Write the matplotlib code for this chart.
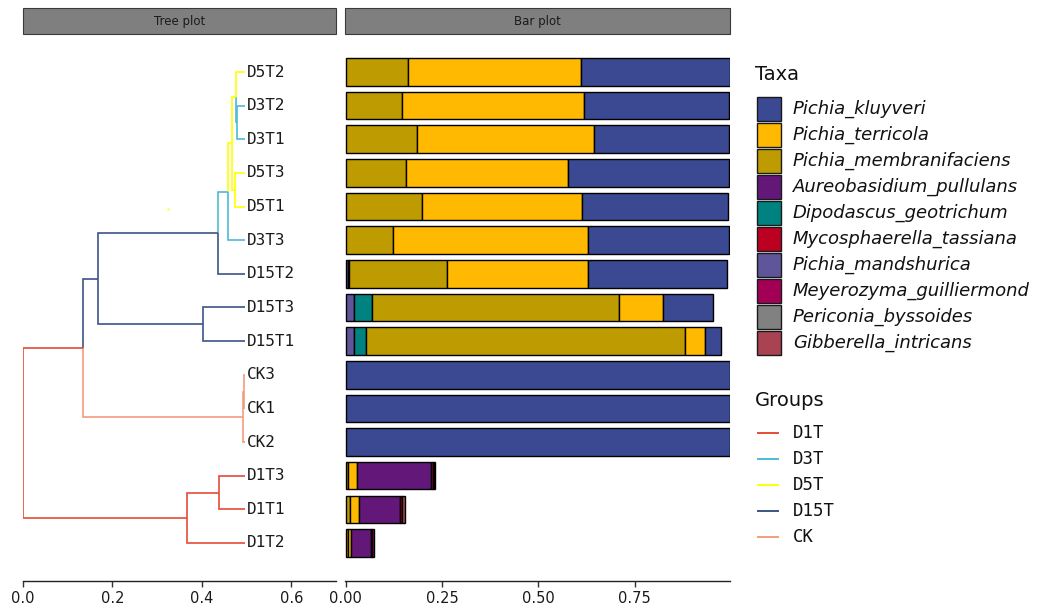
import numpy as np
import matplotlib
matplotlib.use("Agg")
import matplotlib.pyplot as plt
from matplotlib.patches import Rectangle

# ---------------- data ----------------
samples = ["D5T2", "D3T2", "D3T1", "D5T3", "D5T1", "D3T3", "D15T2", "D15T3",
           "D15T1", "CK3", "CK1", "CK2", "D1T3", "D1T1", "D1T2"]
sample_group = ["D5T", "D3T", "D3T", "D5T", "D5T", "D3T", "D15T", "D15T",
                "D15T", "CK", "CK", "CK", "D1T", "D1T", "D1T"]

taxa = ["Pichia_kluyveri", "Pichia_terricola", "Pichia_membranifaciens",
        "Aureobasidium_pullulans", "Dipodascus_geotrichum",
        "Mycosphaerella_tassiana", "Pichia_mandshurica",
        "Meyerozyma_guilliermond", "Periconia_byssoides", "Gibberella_intricans"]
taxa_colors = ["#3B4992", "#FFB900", "#BE9B00", "#631879", "#008280",
               "#BB0021", "#5F559B", "#A20056", "#808180", "#A94352"]

# relative abundance per sample (same order as samples)
pichia_kluyveri = [0.385, 0.377, 0.351, 0.418, 0.378, 0.366, 0.360, 0.128,
                   0.041, 0.996, 0.996, 0.996, 0.000, 0.000, 0.000]
pichia_terricola = [0.450, 0.473, 0.460, 0.422, 0.417, 0.506, 0.366, 0.114,
                    0.051, 0.000, 0.000, 0.000, 0.022, 0.025, 0.008]
pichia_membranifaciens = [0.161, 0.145, 0.184, 0.155, 0.197, 0.123, 0.253, 0.642,
                          0.829, 0.000, 0.000, 0.000, 0.007, 0.010, 0.005]
aureobasidium_pullulans = [0.000, 0.000, 0.000, 0.000, 0.000, 0.000, 0.000, 0.000,
                           0.000, 0.000, 0.000, 0.000, 0.192, 0.105, 0.052]
dipodascus_geotrichum = [0.000, 0.000, 0.000, 0.000, 0.000, 0.000, 0.004, 0.046,
                         0.030, 0.000, 0.000, 0.000, 0.000, 0.000, 0.000]
mycosphaerella_tassiana = [0.000, 0.000, 0.000, 0.000, 0.000, 0.000, 0.000, 0.000,
                           0.000, 0.000, 0.000, 0.000, 0.005, 0.006, 0.004]
pichia_mandshurica = [0.000, 0.000, 0.000, 0.000, 0.000, 0.000, 0.005, 0.022,
                      0.022, 0.000, 0.000, 0.000, 0.000, 0.000, 0.000]
meyerozyma_guilliermond = [0.000, 0.000, 0.000, 0.000, 0.000, 0.000, 0.000, 0.000,
                           0.000, 0.000, 0.000, 0.000, 0.003, 0.000, 0.004]
periconia_byssoides = [0.000, 0.000, 0.000, 0.000, 0.000, 0.000, 0.000, 0.000,
                       0.000, 0.000, 0.000, 0.000, 0.002, 0.000, 0.000]
gibberella_intricans = [0.000, 0.000, 0.000, 0.000, 0.000, 0.000, 0.000, 0.000,
                        0.000, 0.000, 0.000, 0.000, 0.000, 0.007, 0.000]

abundance = {
    "Pichia_kluyveri": pichia_kluyveri,
    "Pichia_terricola": pichia_terricola,
    "Pichia_membranifaciens": pichia_membranifaciens,
    "Aureobasidium_pullulans": aureobasidium_pullulans,
    "Dipodascus_geotrichum": dipodascus_geotrichum,
    "Mycosphaerella_tassiana": mycosphaerella_tassiana,
    "Pichia_mandshurica": pichia_mandshurica,
    "Meyerozyma_guilliermond": meyerozyma_guilliermond,
    "Periconia_byssoides": periconia_byssoides,
    "Gibberella_intricans": gibberella_intricans,
}
# left-to-right stacking order of the bar segments
stack_order = ["Pichia_mandshurica", "Dipodascus_geotrichum",
               "Pichia_membranifaciens", "Pichia_terricola",
               "Aureobasidium_pullulans", "Mycosphaerella_tassiana",
               "Meyerozyma_guilliermond", "Periconia_byssoides",
               "Gibberella_intricans", "Pichia_kluyveri"]

groups = ["D1T", "D3T", "D5T", "D15T", "CK"]
group_colors = ["#E64B35", "#4DBBD5", "#FFFF00", "#3C5488", "#F39B7F"]

# clustering tree: internal node -> (children, height, group)
tree_nodes = {
    "A": (["D3T2", "D3T1"], 0.479, "D3T"),
    "B": (["D5T2", "A"], 0.477, "D5T"),
    "D": (["D5T3", "D5T1"], 0.474, "D5T"),
    "C": (["B", "D"], 0.468, "D5T"),
    "E": (["C", "D3T3"], 0.459, "D3T"),
    "Ep": (["E", "D15T2"], 0.437, "D15T"),
    "F": (["D15T3", "D15T1"], 0.402, "D15T"),
    "G": (["Ep", "F"], 0.168, "D15T"),
    "H": (["CK3", "CK1"], 0.495, "CK"),
    "I": (["H", "CK2"], 0.493, "CK"),
    "U": (["G", "I"], 0.134, "D1T"),
    "J": (["D1T3", "D1T1"], 0.439, "D1T"),
    "K": (["D1T2", "J"], 0.366, "D1T"),
    "root": (["U", "K"], 0.0, "D1T"),
}
tip_height = 0.497

# ---------------- figure ----------------
W, H = 1048, 609
fig = plt.figure(figsize=(W / 100, H / 100), dpi=100)
plt.rcParams["font.family"] = ["DejaVu Sans"]
MONO = "DejaVu Sans Mono"


def fig_rect(x0, y0, x1, y1):
    return [x0 / W, 1 - y1 / H, (x1 - x0) / W, (y1 - y0) / H]


panel_top, panel_bottom = 35, 581
ax_tree = fig.add_axes(fig_rect(23, panel_top, 336, panel_bottom))
ax_bar = fig.add_axes(fig_rect(345, panel_top, 730, panel_bottom))

n = len(samples)
row_y = {s: n - i for i, s in enumerate(samples)}
ylim = (-0.13, 16.1)

# ---- tree ----
gcol = dict(zip(groups, group_colors))
node_x = {s: tip_height for s in samples}
node_y = dict(row_y)
node_group = dict(zip(samples, sample_group))


def place(name):
    if name in node_y:
        return node_y[name]
    kids, h, g = tree_nodes[name]
    ys = [place(k) for k in kids]
    node_x[name] = h
    node_y[name] = float(np.mean(ys))
    node_group[name] = g
    return node_y[name]


place("root")
for name, (kids, h, g) in tree_nodes.items():
    px, py = node_x[name], node_y[name]
    for k in kids:
        ax_tree.plot([px, px, node_x[k]], [py, node_y[k], node_y[k]],
                     color=gcol[node_group[k]], lw=1.2,
                     solid_joinstyle="miter", solid_capstyle="butt")
for s in samples:
    ax_tree.text(tip_height + 0.004, row_y[s], s, ha="left", va="center",
                 fontsize=11.5, family=MONO, color="#1a1a1a")
ax_tree.plot([0.324], [10.94], marker="s", ms=1.4, color="#FFFF00", mec="none")

ax_tree.set_xlim(0, 0.70)
ax_tree.set_ylim(*ylim)
ax_tree.set_xticks([0.0, 0.2, 0.4, 0.6])
ax_tree.set_xticklabels(["0.0", "0.2", "0.4", "0.6"])

# ---- stacked bars ----
ys = np.array([row_y[s] for s in samples])
left = np.zeros(n)
for t in stack_order:
    vals = np.array(abundance[t])
    col = taxa_colors[taxa.index(t)]
    mask = vals > 0
    ax_bar.barh(ys[mask], vals[mask], left=left[mask], height=0.82,
                color=col, edgecolor="black", linewidth=1.0)
    left += vals
ax_bar.set_xlim(-0.002, 0.997)
ax_bar.set_ylim(*ylim)
ax_bar.set_xticks([0.0, 0.25, 0.5, 0.75])
ax_bar.set_xticklabels(["0.00", "0.25", "0.50", "0.75"])

for ax in (ax_tree, ax_bar):
    for side in ("top", "right", "left"):
        ax.spines[side].set_visible(False)
    ax.spines["bottom"].set_color("#222222")
    ax.spines["bottom"].set_linewidth(1.0)
    ax.set_yticks([])
    ax.tick_params(axis="x", length=4, width=1.0, color="#333333",
                   labelsize=10.5, labelcolor="#1a1a1a", pad=3)
    ax.set_facecolor("none")

# ---- strips and legends in pixel coordinates ----
ov = fig.add_axes([0, 0, 1, 1], zorder=-1)
ov.set_xlim(0, W)
ov.set_ylim(H, 0)
ov.axis("off")

for (x0, x1, label) in [(23, 336, "Tree plot"), (345, 730, "Bar plot")]:
    ov.add_patch(Rectangle((x0, 8), x1 - x0, 26, facecolor="#7F7F7F",
                           edgecolor="#3a3a3a", linewidth=0.8))
    ov.text((x0 + x1) / 2, 21, label, ha="center", va="center",
            fontsize=8.5, color="#1a1a1a")

ov.text(755, 75, "Taxa", ha="left", va="center", fontsize=14, color="#111111")
for i, (t, c) in enumerate(zip(taxa, taxa_colors)):
    yc = 108.5 + 26 * i
    ov.add_patch(Rectangle((757, yc - 12), 24, 24, facecolor=c,
                           edgecolor="#1a1a1a", linewidth=1.0))
    ov.text(793, yc, t, ha="left", va="center", fontsize=13,
            style="italic", color="#111111")

ov.text(755, 400, "Groups", ha="left", va="center", fontsize=14, color="#111111")
for i, (g, c) in enumerate(zip(groups, group_colors)):
    yc = 433 + 26 * i
    ov.plot([758, 778], [yc, yc], color=c, lw=1.4)
    ov.text(793, yc, g, ha="left", va="center", fontsize=12.5, family=MONO,
            color="#111111")

fig.savefig("out.png", dpi=100)
